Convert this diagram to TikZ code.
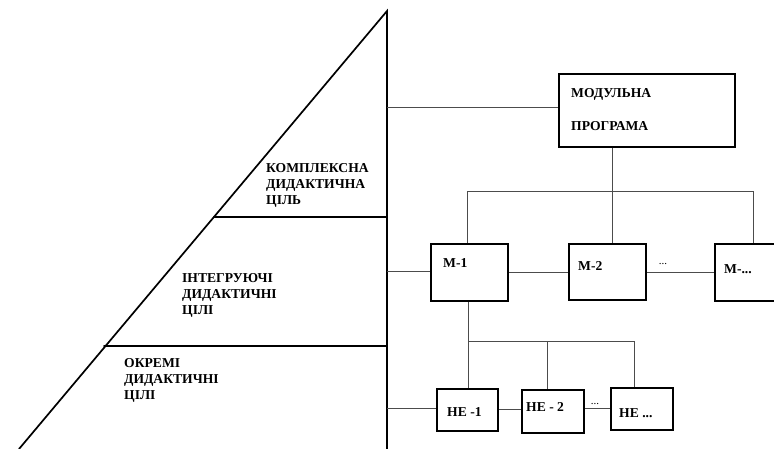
\documentclass[tikz,border=0pt]{standalone}
\usepackage{fontspec}
\setmainfont{Liberation Serif}
\begin{document}
\begin{tikzpicture}[x=1pt,y=-1pt,
  tri/.style={line width=1.7pt, line cap=round},
  conn/.style={line width=0.9pt, draw=black!70},
  bx/.style={draw=black, line width=1.9pt, anchor=north west, inner sep=0pt},
  lbl/.style={font=\bfseries\fontsize{13.6}{16}\selectfont, anchor=north west, inner sep=0pt, align=left},
  dots/.style={font=\fontsize{11}{12}\selectfont, anchor=base, inner sep=0pt}]
\useasboundingbox (0,0) rectangle (774,448);
% pyramid
\coordinate (apex) at (387,11);
\coordinate (vbot) at (387,449);
\coordinate (hbot) at (19,449);
\coordinate (h1l) at (214,217);
\coordinate (h1r) at (387,217);
\coordinate (h2l) at (104,346);
\coordinate (h2r) at (387,346);
\draw[tri] (hbot) -- (apex) -- (vbot);
\draw[tri] (h1l) -- (h1r);
\draw[tri] (h2l) -- (h2r);
\node[lbl] (t1) at (266,163) {КОМПЛЕКСНА\\ДИДАКТИЧНА\\ЦІЛЬ};
\node[lbl] (t2) at (182,273) {ІНТЕГРУЮЧІ\\ДИДАКТИЧНІ\\ЦІЛІ};
\node[lbl] (t3) at (124,358) {ОКРЕМІ\\ДИДАКТИЧНІ\\ЦІЛІ};
% boxes
\node[bx, minimum width=176pt, minimum height=73pt] (mp) at (558,73) {};
\node[bx, minimum width=77pt, minimum height=57pt] (m1) at (430,243) {};
\node[bx, minimum width=77pt, minimum height=56pt] (m2) at (568,243) {};
\node[bx, minimum width=80pt, minimum height=57pt] (mx) at (714,243) {};
\node[bx, minimum width=61pt, minimum height=42pt] (ne1) at (436,388) {};
\node[bx, minimum width=62pt, minimum height=43pt] (ne2) at (521,389) {};
\node[bx, minimum width=62pt, minimum height=42pt] (nex) at (610,387) {};
% box texts
\node[lbl, font=\bfseries\fontsize{13.6}{33}\selectfont] (mpt) at (571,88) {МОДУЛЬНА\\ПРОГРАМА};
\node[lbl] (m1t) at (443,258) {М-1};
\node[lbl] (m2t) at (578,261) {М-2};
\node[lbl] (mxt) at (724,264) {М-...};
\node[lbl] (ne1t) at (447,407) {НЕ -1};
\node[lbl] (ne2t) at (526,402) {НЕ - 2};
\node[lbl] (next) at (619,408) {НЕ ...};
% connectors
\coordinate (c1) at (387,107);
\draw[conn] (c1) -- (c1 -| mp.west);
\coordinate (b0) at (612,191);
\coordinate (b0l) at (467,191);
\coordinate (b0r) at (753,191);
\draw[conn] (b0 |- mp.south) -- (b0);
\draw[conn] (b0l) -- (b0r);
\draw[conn] (b0l) -- (b0l |- m1.north);
\draw[conn] (b0) -- (b0 |- m2.north);
\draw[conn] (b0r) -- (b0r |- mx.north);
\coordinate (c2) at (387,271);
\draw[conn] (c2) -- (c2 -| m1.west);
\coordinate (r2) at (500,272);
\draw[conn] (r2 -| m1.east) -- (r2 -| m2.west);
\draw[conn] (r2 -| m2.east) -- (r2 -| mx.west);
\node[dots] (d1) at (663,264) {...};
\coordinate (b1) at (468,341);
\coordinate (b1m) at (547,341);
\coordinate (b1r) at (634,341);
\draw[conn] (b1 |- m1.south) -- (b1);
\draw[conn] (b1) -- (b1r);
\draw[conn] (b1) -- (b1 |- ne1.north);
\draw[conn] (b1m) -- (b1m |- ne2.north);
\draw[conn] (b1r) -- (b1r |- nex.north);
\coordinate (c3) at (387,408);
\draw[conn] (c3) -- (c3 -| ne1.west);
\coordinate (r3) at (500,409);
\draw[conn] (r3 -| ne1.east) -- (r3 -| ne2.west);
\coordinate (r4) at (500,408);
\draw[conn] (r4 -| ne2.east) -- (r4 -| nex.west);
\node[dots] (d2) at (595,404) {...};
\end{tikzpicture}
\end{document}
